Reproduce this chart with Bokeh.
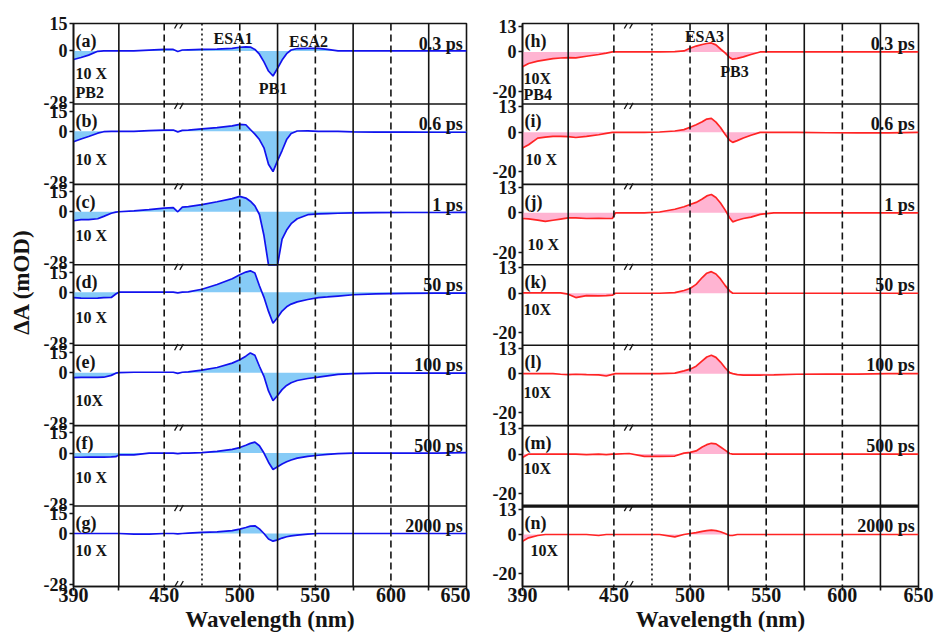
import numpy as np
from bokeh.plotting import figure
from bokeh.layouts import row
from bokeh.models import ColumnDataSource, FixedTicker, Range1d, Span
from bokeh.core.properties import value
from bokeh.embed import file_html
from bokeh.resources import INLINE

# ---------------- data (ΔA in mOD, first ~30 nm shown 10x enlarged) ----------------
WL_BLUE = [390, 395, 400, 406, 410, 415, 418, 420, 430, 440,
           450, 456, 459, 462, 466, 475, 485, 495, 500, 504,
           507, 510, 513, 516, 519, 522, 525, 528, 531, 534,
           538, 545, 552, 558, 565, 575, 590, 610, 630, 650]

blue_0p3ps = [-4.7, -3.6, -2.3, -0.2, 0.0, 0.0, 0.0, 0.0, 0.0, 0.4,
              0.8, 0.8, -0.3, 0.5, 0.6, 0.8, 1.0, 1.4, 2.0, 2.2,
              2.1, 0.8, -1.8, -6.0, -11.0, -13.7, -9.5, -5.0, -1.5, 0.5,
              1.3, 1.4, 1.4, 0.8, 0.0, 0.0, 0.0, 0.0, 0.0, 0.0]
blue_0p6ps = [-5.7, -4.2, -2.8, -1.0, -0.2, 0.0, 0.0, 0.0, 0.0, 0.4,
              0.7, 0.7, -0.3, 0.5, 0.7, 1.4, 2.0, 3.0, 3.8, 3.6,
              1.0, -1.5, -4.5, -9.0, -18.0, -22.0, -16.0, -10.5, -4.5, -1.2,
              0.2, 0.3, 0.0, 0.0, 0.0, -0.3, -0.4, -0.4, -0.5, -0.5]
blue_1ps = [-4.9, -4.3, -4.3, -3.8, -2.5, -0.8, -0.2, 0.0, 0.5, 1.2,
            2.0, 2.3, 0.0, 2.5, 2.8, 3.9, 5.5, 7.2, 8.4, 7.5,
            5.8, 3.2, -1.5, -13.0, -32.0, -36.0, -32.0, -15.0, -10.0, -6.5,
            -3.8, -1.6, -1.2, -1.0, -0.8, -0.6, -0.5, -0.4, -0.4, -0.3]
blue_50ps = [-3.0, -3.2, -3.3, -3.2, -3.0, -2.9, -1.0, 0.0, 0.0, 0.0,
             0.0, 0.0, -0.4, 0.0, 0.2, 1.6, 4.2, 7.4, 9.5, 11.0,
             11.7, 10.5, 3.5, -2.8, -10.5, -17.0, -13.8, -10.3, -8.0, -6.5,
             -5.3, -4.0, -3.0, -2.6, -2.1, -1.4, -0.9, -0.6, -0.5, -0.5]
blue_100ps = [-2.7, -2.6, -2.6, -2.6, -2.5, -1.5, -0.3, 0.0, 0.2, 0.2,
              0.2, 0.2, -0.4, 0.2, 0.4, 1.4, 2.8, 5.2, 7.0, 9.0,
              10.8, 9.5, 3.5, -2.0, -10.0, -15.3, -12.5, -9.3, -7.0, -5.5,
              -4.3, -3.2, -2.5, -1.8, -1.0, -0.5, -0.3, -0.3, -0.3, -0.3]
blue_500ps = [-2.3, -2.3, -2.2, -2.2, -2.2, -2.1, -2.0, -1.0, -1.0, 0.0,
              0.0, 0.0, -0.3, 0.0, 0.0, 0.2, 0.9, 2.0, 3.0, 4.3,
              5.3, 6.0, 4.0, 0.0, -5.0, -9.0, -7.5, -6.0, -4.8, -3.8,
              -2.8, -1.8, -1.2, -0.7, -0.3, 0.0, 0.0, 0.0, 0.0, 0.2]
blue_2000ps = [0.0, 0.0, 0.0, 0.0, 0.0, 0.0, 0.0, 0.0, -0.3, -0.3,
               0.0, 0.0, -0.2, 0.0, 0.2, 0.6, 0.9, 1.6, 2.4, 3.3,
               4.0, 4.2, 2.5, 0.0, -3.0, -4.2, -3.5, -2.5, -1.8, -1.3,
               -0.9, -0.3, 0.0, 0.0, 0.0, 0.0, 0.0, 0.0, 0.0, 0.0]

WL_RED = [390, 394, 400, 405, 410, 415, 420, 425, 432, 440,
          445, 449, 451, 460, 470, 480, 490, 496, 500, 504,
          508, 511, 514, 517, 520, 523, 526, 528, 531, 535,
          540, 546, 555, 570, 590, 610, 630, 650]

red_0p3ps = [-7.6, -5.9, -4.7, -4.0, -3.4, -3.1, -2.9, -3.0, -2.2, -1.3,
             -0.6, 0.0, 0.0, 0.0, 0.0, 0.0, 0.2, 0.5, 1.9, 3.0,
             3.8, 4.3, 4.6, 3.6, 1.5, -0.5, -2.8, -3.7, -3.3, -2.5,
             -1.3, 0.0, 0.0, 0.0, 0.0, 0.0, 0.0, 0.0]
red_0p6ps = [-8.0, -6.3, -2.9, -2.4, -2.0, -2.0, -2.2, -2.6, -2.0, -1.2,
             -0.5, 0.0, 0.0, 0.0, 0.0, 0.2, 0.7, 1.4, 2.6, 3.9,
             5.4, 6.8, 7.1, 5.2, 2.5, -1.0, -4.0, -5.1, -4.2, -2.9,
             -1.5, 0.0, 0.0, 0.0, -0.2, -0.3, -0.3, 0.0]
red_1ps = [-2.9, -3.1, -3.7, -4.4, -3.8, -3.2, -2.6, -2.6, -2.9, -2.8,
           -2.9, -2.9, 0.0, 0.0, 0.0, 0.4, 1.8, 3.1, 4.2, 5.3,
           7.0, 8.6, 9.3, 7.8, 5.0, 1.5, -2.5, -4.6, -3.8, -2.9,
           -2.2, -0.8, 0.0, 0.0, 0.0, 0.0, 0.0, 0.0]
red_50ps = [0.2, 0.2, 0.2, 0.2, 0.2, 0.2, -0.5, -2.2, -1.2, -1.3,
            -1.2, -1.0, 0.0, 0.0, 0.0, 0.0, 0.3, 1.4, 2.4, 4.5,
            8.0, 10.2, 11.0, 9.8, 7.3, 4.0, 1.2, 0.0, 0.0, 0.0,
            0.0, 0.0, 0.0, 0.0, 0.0, 0.0, 0.0, 0.0]
red_100ps = [0.0, 0.0, 0.0, 0.0, 0.0, -0.3, -0.5, -0.3, -0.5, -0.6,
             -1.2, -0.4, 0.0, 0.0, 0.0, 0.0, 0.3, 1.4, 2.3, 3.8,
             6.5, 8.5, 9.4, 8.3, 5.9, 3.0, 0.5, 0.0, -0.5, -0.7,
             -0.7, -0.7, -0.6, -0.3, -0.2, -0.2, 0.0, 0.0]
red_500ps = [-1.7, 0.0, 0.0, 0.0, 0.0, 0.0, 0.0, 0.0, -0.3, 0.0,
             -0.3, 0.0, 0.0, 0.3, -1.2, -1.2, -1.0, 0.5, 0.9, 1.6,
             3.6, 4.8, 5.5, 5.2, 3.6, 2.0, 0.3, 0.0, 0.0, 0.0,
             0.0, 0.0, 0.0, 0.0, 0.0, 0.0, 0.0, 0.0]
red_2000ps = [-3.4, -1.7, -0.5, 0.0, 0.0, 0.0, 0.0, 0.0, 0.0, -0.5,
              0.0, 0.0, 0.0, 0.0, 0.0, 0.0, -1.2, 0.0, 0.5, 1.0,
              1.6, 2.0, 2.2, 2.0, 1.4, 0.5, -0.5, -0.5, 0.0, 0.0,
              0.0, 0.0, 0.0, 0.0, 0.0, 0.0, 0.0, 0.0]

DELAYS = ["0.3 ps", "0.6 ps", "1 ps", "50 ps", "100 ps", "500 ps", "2000 ps"]
LETTERS_BLUE = ["(a)", "(b)", "(c)", "(d)", "(e)", "(f)", "(g)"]
LETTERS_RED = ["(h)", "(i)", "(j)", "(k)", "(l)", "(m)", "(n)"]
TENX_BLUE = ["10 X", "10 X", "10 X", "10 X", "10X", "10 X", "10 X"]
TENX_RED = ["10X", "10 X", "10 X", "10X", "10X", "10X", "10X"]
YTICKS_BLUE = [15, 0, -28]
YTICKS_RED = [13, 0, -20]
XTICKS = [390, 450, 500, 550, 600, 650]
GRID_SOLID = [420, 525, 575, 625]
GRID_DASHED = [450, 500, 550, 600]
GRID_DOTTED = [475]

# ---------------- styling / layout ----------------
FONT = "Liberation Serif"
INK = "#141414"
H = 638
TOP, BOTTOM = 23, 52
FRAME_H = H - TOP - BOTTOM
NBSP = "\u00a0"


def build_panel(wl, traces, letters, tenx, tick_vals, row_top, row_bot,
                line_color, fill_color, width, b_left, b_right,
                tenx_drop, tenx_x, notes, top_label_drop=0, thick_after=None,
                ylabel=None):
    n = len(traces)
    span = row_top - row_bot
    y_lo = row_top - n * span
    ppu = FRAME_H / (n * span)

    p = figure(width=width, height=H, x_range=Range1d(390, 650),
               y_range=Range1d(y_lo, row_top), output_backend="svg",
               toolbar_location=None, min_border_left=b_left,
               min_border_right=b_right, min_border_top=TOP,
               min_border_bottom=BOTTOM)
    p.grid.visible = False
    p.background_fill_color = "white"
    p.border_fill_color = "white"
    p.outline_line_color = INK
    p.outline_line_width = 1.6

    def y_at(r, drop_px, size_px=0):
        # baseline for a text whose cap top sits drop_px below the top of band r
        return row_top - r * span - (drop_px + 0.68 * size_px) / ppu

    # spectra, each stacked in its own band
    for r, vals in enumerate(traces):
        off = -r * span
        shown = np.clip(np.asarray(vals, dtype=float), row_bot, row_top) + off
        p.varea(x=wl, y1=np.full(len(wl), float(off)), y2=shown,
                fill_color=fill_color, fill_alpha=1.0)
        p.line(x=wl, y=shown, line_color=line_color, line_width=1.7)

    # in-panel annotations
    left_t = dict(x=[], y=[], text=[], size=[])
    right_t = dict(x=[], y=[], text=[], size=[])
    mid_t = dict(x=[], y=[], text=[], size=[])
    for r in range(n):
        left_t["x"].append(391.3)
        left_t["y"].append(y_at(r, 5, 18))
        left_t["text"].append(letters[r])
        left_t["size"].append("18px")
        left_t["x"].append(tenx_x[r])
        left_t["y"].append(y_at(r, tenx_drop[r], 16))
        left_t["text"].append(tenx[r])
        left_t["size"].append("16px")
        right_t["x"].append(647.5)
        right_t["y"].append(y_at(r, 8, 18))
        right_t["text"].append(DELAYS[r])
        right_t["size"].append("18px")
    for txt, x, drop, align in notes:
        tgt = left_t if align == "left" else mid_t
        tgt["x"].append(x)
        tgt["y"].append(y_at(0, drop, 16))
        tgt["text"].append(txt)
        tgt["size"].append("16px")
    for data, align in ((left_t, "left"), (right_t, "right"), (mid_t, "center")):
        p.text(x="x", y="y", text="text", source=ColumnDataSource(data),
               text_align=align, text_baseline="alphabetic",
               text_font=value(FONT), text_font_style="bold",
               text_font_size="size", text_color=INK)

    # axis-break marks on every band edge
    edges = [row_top - r * span - 2.0 / ppu for r in range(n)] + [y_lo + 2.5 / ppu]
    p.scatter(x=[458.0] * len(edges) + [461.5] * len(edges), y=edges * 2,
              marker="dash", size=7, angle=1.05, line_color=INK, line_width=1.3)

    # vertical guide lines
    for x in GRID_SOLID:
        p.add_layout(Span(location=x, dimension="height", line_color=INK, line_width=1.6))
    for x in GRID_DASHED:
        p.add_layout(Span(location=x, dimension="height", line_color=INK,
                          line_width=1.6, line_dash="7 4"))
    for x in GRID_DOTTED:
        p.add_layout(Span(location=x, dimension="height", line_color=INK,
                          line_width=1.6, line_dash="2 3"))
    # band separators
    for r in range(1, n):
        lw = 3.2 if thick_after == r else 1.6
        p.add_layout(Span(location=row_top - r * span, dimension="width",
                          line_color=INK, line_width=lw))

    # y axis: each band repeats its own scale; the upper label of the lower
    # bands sits a little lower so it clears the band above
    hi, mid, lo = tick_vals
    ticks, labels = [], {}
    for r in range(n):
        off = -r * span
        t_hi = hi + off - (top_label_drop if r > 0 else 0)
        for t, txt in ((t_hi, hi), (mid + off, mid), (lo + off, lo)):
            ticks.append(float(t))
            labels[float(t)] = str(txt)
    p.yaxis.ticker = FixedTicker(ticks=ticks)
    p.yaxis.major_label_overrides = labels
    p.yaxis.major_label_text_font = FONT
    p.yaxis.major_label_text_font_style = "bold"
    p.yaxis.major_label_text_font_size = "18px"
    p.yaxis.major_label_text_color = INK
    p.yaxis.major_label_standoff = 2
    p.yaxis.major_tick_out = 4
    p.yaxis.major_tick_in = 0
    p.yaxis.major_tick_line_width = 1.6
    p.yaxis.axis_line_width = 1.6
    p.yaxis.axis_line_color = INK
    p.yaxis.major_tick_line_color = INK
    p.yaxis.minor_tick_line_color = None
    if ylabel:
        # leading no-break spaces lift the centred title a little
        p.yaxis.axis_label = NBSP * 8 + ylabel
        p.yaxis.axis_label_standoff = 7
        p.yaxis.axis_label_text_font = FONT
        p.yaxis.axis_label_text_font_style = "bold"
        p.yaxis.axis_label_text_font_size = "23px"
        p.yaxis.axis_label_text_color = INK

    # x axis
    p.xaxis.ticker = FixedTicker(ticks=XTICKS, minor_ticks=GRID_SOLID)
    p.xaxis.major_tick_out = 4
    p.xaxis.major_tick_in = 0
    p.xaxis.minor_tick_out = 4
    p.xaxis.minor_tick_in = 0
    p.xaxis.major_tick_line_width = 1.6
    p.xaxis.minor_tick_line_width = 1.6
    p.xaxis.major_tick_line_color = INK
    p.xaxis.minor_tick_line_color = INK
    p.xaxis.axis_line_width = 1.6
    p.xaxis.axis_line_color = INK
    p.xaxis.major_label_standoff = -3
    p.xaxis.major_label_text_font = FONT
    p.xaxis.major_label_text_font_style = "bold"
    p.xaxis.major_label_text_font_size = "20px"
    p.xaxis.major_label_text_color = INK
    p.xaxis.axis_label = "Wavelength (nm)"
    p.xaxis.axis_label_standoff = 2
    p.xaxis.axis_label_text_font = FONT
    p.xaxis.axis_label_text_font_style = "bold"
    p.xaxis.axis_label_text_font_size = "23px"
    p.xaxis.axis_label_text_color = INK
    return p


left = build_panel(
    WL_BLUE,
    [blue_0p3ps, blue_0p6ps, blue_1ps, blue_50ps, blue_100ps, blue_500ps, blue_2000ps],
    LETTERS_BLUE, TENX_BLUE, YTICKS_BLUE, 15, -29,
    "#1212ee", "#86cbf7", 470, 73, 4,
    tenx_drop=[39, 45, 40, 42, 44, 41, 34],
    tenx_x=[391.3] * 7,
    notes=[("ESA1", 495.6, 4, "center"), ("ESA2", 545.5, 7, "center"),
           ("PB1", 522.0, 54, "center"), ("PB2", 391.3, 58, "left")],
    top_label_drop=4, ylabel="ΔA (mOD)")

right = build_panel(
    WL_RED,
    [red_0p3ps, red_0p6ps, red_1ps, red_50ps, red_100ps, red_500ps, red_2000ps],
    LETTERS_RED, TENX_RED, YTICKS_RED, 14.5, -26.5,
    "#ff2424", "#ffb4d2", 464, 52, 16,
    tenx_drop=[44, 45, 49, 34, 36, 32, 34],
    tenx_x=[390.7, 392.0, 393.3, 390.7, 390.7, 390.7, 395.3],
    notes=[("ESA3", 509.5, 2, "center"), ("PB3", 529.2, 37, "center"),
           ("PB4", 390.7, 60, "left")],
    thick_after=6)

layout = row(left, right)
open("out.html", "w").write(file_html(layout, INLINE))
